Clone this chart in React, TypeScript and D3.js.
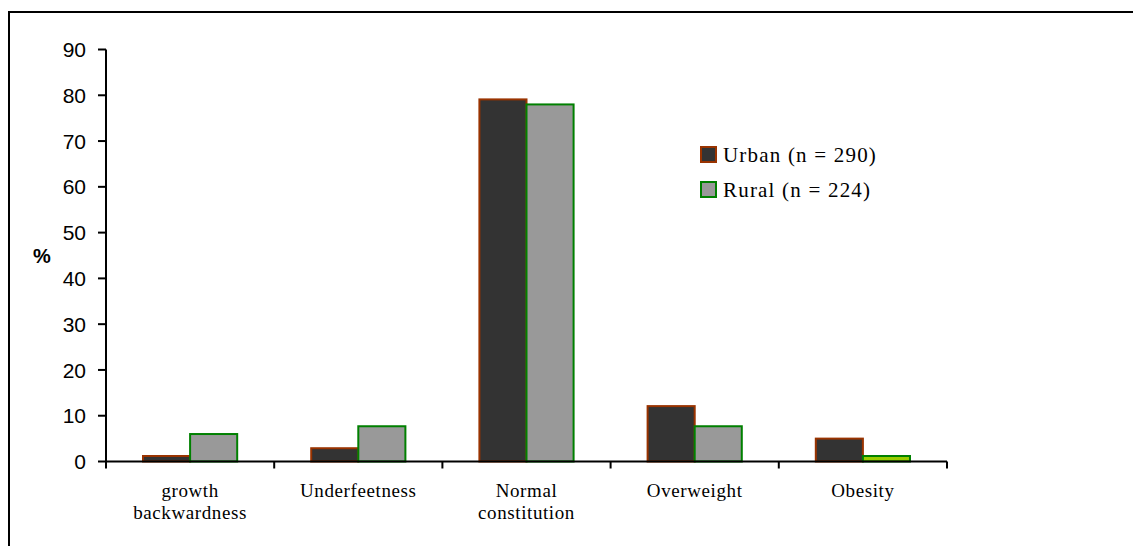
import React from "react";
import * as d3 from "d3";

const categories: string[][] = [
  ["growth", "backwardness"],
  ["Underfeetness"],
  ["Normal", "constitution"],
  ["Overweight"],
  ["Obesity"],
];
const categoryKeys = ["growth backwardness", "Underfeetness", "Normal constitution", "Overweight", "Obesity"];
const urbanValues = [1.2, 2.9, 79.1, 12.1, 5.0];
const ruralValues = [6.0, 7.7, 78.0, 7.7, 1.2];
const ruralFills = ["#999999", "#999999", "#999999", "#999999", "#99cc00"];
const yTicks = [0, 10, 20, 30, 40, 50, 60, 70, 80, 90];
const seriesNames = ["Urban (n = 290)", "Rural (n = 224)"];

const W = 1133;
const H = 546;
const x0 = 106;
const x1 = 947;
const yBottom = 461.5;
const yTop = 49.5;

export default function App() {
  const x = d3.scaleBand<string>().domain(categoryKeys).range([x0, x1]).paddingInner(0.44).paddingOuter(0.22);
  const y = d3.scaleLinear().domain([0, 90]).range([yBottom, yTop]);
  const bw = x.bandwidth() / 2;
  const step = x.step();
  const serif = { fontFamily: '"Liberation Serif", "Times New Roman", Times, serif' };
  const sans = { fontFamily: '"Liberation Sans", Arial, Helvetica, sans-serif' };
  return (
    <svg width={W} height={H} style={{ position: "absolute", left: 0, top: 0, background: "#fff" }}>
      <rect x={9} y={12} width={W + 20} height={H + 20} fill="#fff" stroke="#000" strokeWidth={2} />
      {categoryKeys.map((c, i) => {
        const bx = x(c)!;
        return (
          <g key={c}>
            <rect x={bx} y={y(urbanValues[i])} width={bw} height={y(0) - y(urbanValues[i])} fill="#333333" stroke="#993300" strokeWidth={2} />
            <rect x={bx + bw} y={y(ruralValues[i])} width={bw} height={y(0) - y(ruralValues[i])} fill={ruralFills[i]} stroke="#008000" strokeWidth={2} />
          </g>
        );
      })}
      <line x1={x0} x2={x0} y1={yTop} y2={yBottom} stroke="#000" strokeWidth={2} />
      {yTicks.map((t) => (
        <g key={t}>
          <line x1={x0 - 8} x2={x0} y1={y(t)} y2={y(t)} stroke="#000" strokeWidth={2} />
          <text x={86} y={y(t)} dy="0.36em" textAnchor="end" style={{ ...sans, fontSize: 21 }} fill="#000">{t}</text>
        </g>
      ))}
      <text x={42} y={256} dy="0.36em" textAnchor="middle" style={{ ...sans, fontSize: 20, fontWeight: "bold" }}>%</text>
      <line x1={x0} x2={x1} y1={yBottom} y2={yBottom} stroke="#000" strokeWidth={2} />
      {d3.range(categoryKeys.length + 1).map((i) => (
        <line key={i} x1={x0 + i * step} x2={x0 + i * step} y1={yBottom} y2={yBottom + 7} stroke="#000" strokeWidth={2} />
      ))}
      {categoryKeys.map((c, i) => (
        <text key={c} textAnchor="middle" style={{ ...serif, fontSize: 19, letterSpacing: "0.6px" }} fill="#000">
          {categories[i].map((line, j) => (
            <tspan key={j} x={x(c)! + x.bandwidth() / 2} y={497 + j * 22}>{line}</tspan>
          ))}
        </text>
      ))}
      {seriesNames.map((s, i) => (
        <g key={s} transform={`translate(701, ${147 + i * 35})`}>
          <rect x={0} y={0} width={15} height={15} fill={i === 0 ? "#333333" : "#999999"} stroke={i === 0 ? "#993300" : "#008000"} strokeWidth={2} />
          <text x={22} y={15} style={{ ...serif, fontSize: 21, letterSpacing: "1.2px" }} fill="#000">{s}</text>
        </g>
      ))}
    </svg>
  );
}
